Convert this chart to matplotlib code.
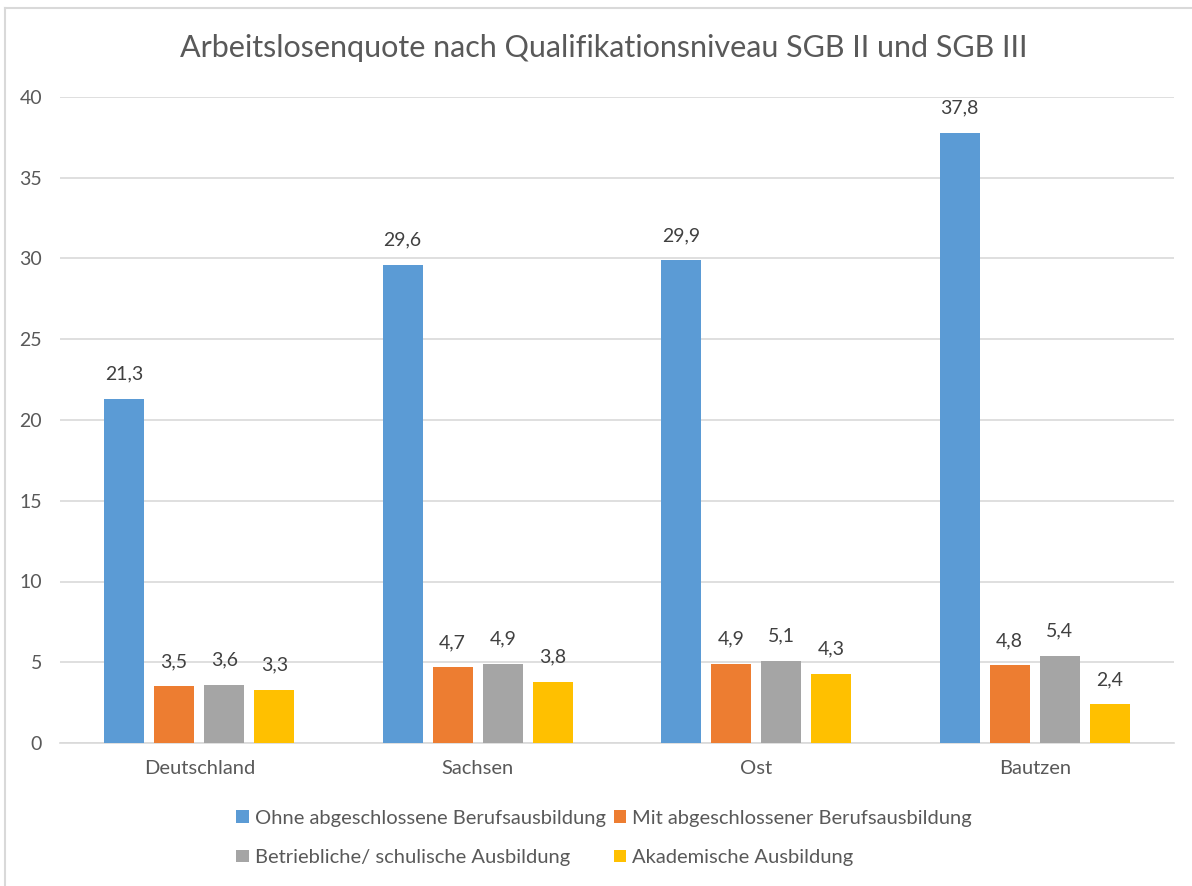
import matplotlib
matplotlib.use("Agg")
import matplotlib.pyplot as plt
import numpy as np

categories = ["Deutschland", "Sachsen", "Ost", "Bautzen"]
series_names = ["Ohne abgeschlossene Berufsausbildung",
                "Mit abgeschlossener Berufsausbildung",
                "Betriebliche/ schulische Ausbildung",
                "Akademische Ausbildung"]
ohne = [21.3, 29.6, 29.9, 37.8]
mit = [3.5, 4.7, 4.9, 4.8]
betrieblich = [3.6, 4.9, 5.1, 5.4]
akademisch = [3.3, 3.8, 4.3, 2.4]
colors = ["#5B9BD5", "#ED7D31", "#A5A5A5", "#FFC000"]
yticks = [0, 5, 10, 15, 20, 25, 30, 35, 40]

plt.rcParams['font.family'] = ['Lato', 'DejaVu Sans']

fig = plt.figure(figsize=(11.92, 8.86), dpi=100)
ax = fig.add_axes([60/1192, 1-743/886, (1174-60)/1192, (743-97)/886])

x = np.arange(len(categories))
w = 0.144
pitch = 0.18
all_series = [ohne, mit, betrieblich, akademisch]
for i, (vals, name, c) in enumerate(zip(all_series, series_names, colors)):
    pos = x + (i - 1.5) * pitch
    ax.bar(pos, vals, width=w, color=c, label=name, zorder=3)
    for p, v in zip(pos, vals):
        ax.text(p, v + 1.0, f"{v:.1f}".replace(".", ","), ha="center", va="bottom",
                fontsize=14, color="#404040")

ax.set_xlim(-0.5, 3.5)
ax.set_ylim(0, 40)
ax.set_yticks(yticks)
ax.set_yticklabels([str(t) for t in yticks], fontsize=14, color="#595959")
ax.set_xticks(x)
ax.set_xticklabels(categories, fontsize=14.5, color="#595959")
ax.tick_params(axis="both", length=0)
ax.tick_params(axis="y", pad=13)
ax.tick_params(axis="x", pad=12)
ax.grid(axis="y", color="#D9D9D9", linewidth=1.2, zorder=0)
for s in ["top", "right", "left"]:
    ax.spines[s].set_visible(False)
ax.spines["bottom"].set_color("#D9D9D9")
ax.spines["bottom"].set_linewidth(1.2)

fig.text(604/1192, 1-48/886, "Arbeitslosenquote nach Qualifikationsniveau SGB II und SGB III",
         ha="center", va="center", fontsize=22, color="#595959")

handles, labels = ax.get_legend_handles_labels()
order = [0, 2, 1, 3]
leg = fig.legend([handles[k] for k in order], [labels[k] for k in order], ncol=2, loc="center",
                 bbox_to_anchor=(604/1192, 1-838/886),
                 frameon=False, fontsize=14.5, handlelength=0.6, handleheight=0.6,
                 handletextpad=0.3, columnspacing=0.4, labelspacing=1.1)
for t in leg.get_texts():
    t.set_color("#595959")

fig.add_artist(plt.Line2D([5/1192, 5/1192], [0, 1-8/886], transform=fig.transFigure, color="#D9D9D9", lw=1.5))
fig.add_artist(plt.Line2D([5/1192, 1], [1-8/886, 1-8/886], transform=fig.transFigure, color="#D9D9D9", lw=1.5))

fig.savefig("out.png", dpi=100)
